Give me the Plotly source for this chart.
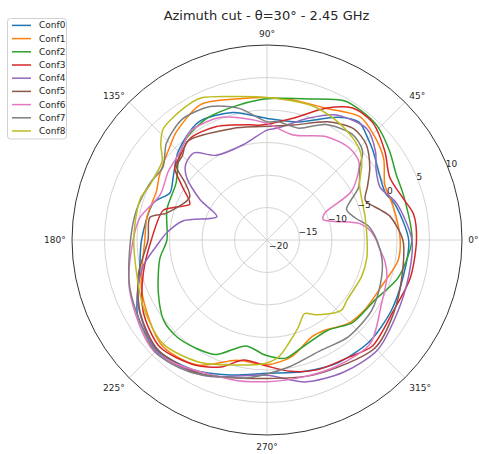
import plotly.graph_objects as go

# ---------------- data (dB vs azimuth angle, degrees) ----------------
labels = ["Conf0", "Conf1", "Conf2", "Conf3", "Conf4", "Conf5", "Conf6", "Conf7", "Conf8"]
colors = ["#1f77b4", "#ff7f0e", "#2ca02c", "#d62728", "#9467bd",
          "#8c564b", "#e377c2", "#7f7f7f", "#bcbd22"]

theta_conf0 = [0, 15, 22, 30, 40, 45, 52, 60, 75, 90, 105, 120, 135, 146, 154, 162, 180, 195, 210, 225, 240, 255, 270, 285, 300, 315, 330, 345, 360]
r_conf0 = [1.8, 0.5, -0.4, 0.0, 1.3, 2.0, 3.0, 1.8, -1.2, -1.3, 0.3, 1.0, -0.7, -2.6, -3.4, -1.6, -0.7, 0.3, 3.0, 3.9, 3.0, 1.5, 0.5, 1.0, 1.8, 2.2, 2.0, 1.7, 1.8]

theta_conf1 = [0, 15, 25, 35, 45, 53, 66, 80, 90, 100, 116, 130, 135, 149, 156, 169, 180, 202, 225, 241, 256, 270, 282, 295, 303, 314, 325, 338, 351, 360]
r_conf1 = [0.5, 0.1, 0.0, 1.9, 3.1, 3.75, 2.2, 1.9, 1.9, 2.1, 3.2, 1.7, 0.9, -0.7, -1.4, -1.2, -1.2, 0.8, 2.9, 2.0, -0.95, -0.8, -1.65, -3.6, -3.5, -2.1, -1.5, -1.0, 0.4, 0.5]

theta_conf2 = [0, 18, 27, 36, 46, 54, 61, 73, 86, 93, 104, 116, 128, 137, 148, 163, 180, 190, 206, 218, 227, 237, 246, 259, 269, 279, 286, 304, 316, 331, 344, 360]
r_conf2 = [2.3, 2.1, 2.3, 3.3, 4.4, 4.6, 4.5, 2.7, 1.85, 1.6, 1.15, 0.9, 0.0, -1.45, -3.5, -3.9, -4.6, -3.25, -1.4, 0.15, 0.35, -0.1, -0.7, -3.4, -2.3, -1.6, -2.4, -3.25, -1.7, -1.0, 1.0, 2.3]

theta_conf3 = [0, 10, 17, 27, 37, 48, 57, 66, 78, 94, 98, 114, 127, 137, 142, 148, 155, 160, 164, 180, 195, 210, 225, 240, 250, 259, 270, 280, 291, 305, 315, 330, 345, 360]
r_conf3 = [3.0, 2.9, 1.9, 1.2, 2.7, 4.3, 4.2, 2.2, -0.85, -2.3, -2.1, -0.9, -0.4, -1.5, -2.0, -4.7, -6.9, -5.2, -3.4, -2.2, -0.3, 2.0, 3.3, 2.2, 0.8, -1.2, -0.6, 0.5, 1.4, 2.0, 3.0, 2.3, 2.8, 3.0]

theta_conf4 = [0, 16, 25, 33, 39, 48, 61, 71, 85, 90, 104, 121, 130, 137, 142, 149, 155, 167, 176, 183, 192, 205, 225, 245, 270, 285, 300, 315, 330, 345, 360]
r_conf4 = [2.3, 0.7, -0.8, 0.0, 1.5, 3.0, 2.0, -0.15, -2.75, -3.1, -4.9, -4.8, -2.5, -2.9, -4.3, -8.0, -11.5, -6.8, -4.5, -3.0, -0.5, 2.0, 4.1, 3.0, 0.8, 2.6, 3.5, 4.0, 3.0, 2.5, 2.3]

theta_conf5 = [0, 11, 15, 22, 28, 35, 44, 52, 63, 77, 94, 107, 129, 135, 141, 145, 151, 165, 169, 180, 195, 210, 225, 243, 270, 290, 315, 330, 345, 360]
r_conf5 = [0.9, -0.75, -2.0, -3.7, -2.5, -0.7, 1.2, 1.7, 0.4, -1.85, -2.5, -2.05, -0.5, -1.6, -2.1, -4.6, -6.4, -4.0, -1.65, -1.7, 0.5, 2.5, 3.8, 3.0, 1.3, 2.0, 3.5, 2.5, 1.5, 0.9]

theta_conf6 = [0, 5, 10, 16, 20, 25, 30, 40, 48, 60, 76, 90, 102, 112, 125, 135, 145, 157, 170, 180, 200, 225, 256, 270, 285, 300, 315, 331, 343, 350, 355, 360]
r_conf6 = [-3.2, -4.0, -5.5, -9.5, -10.8, -10.2, -5.0, -1.5, -1.0, -1.65, -3.35, -2.05, -0.8, 0.25, 0.45, -1.0, -1.5, -2.15, -0.15, 0.6, 2.5, 4.4, 2.15, 1.8, 1.8, 2.2, 2.5, 0.15, -0.7, -1.6, -2.55, -3.2]

theta_conf7 = [0, 8, 14, 21, 30, 38, 43, 51, 63, 74, 85, 90, 102, 113, 125, 136, 145, 154, 167, 180, 200, 225, 240, 256, 262, 270, 280, 296, 310, 326, 339, 350, 360]
r_conf7 = [-3.1, -4.3, -6.0, -6.9, -3.7, -1.9, 0.1, 0.9, -0.05, -2.1, -1.7, -1.8, 0.7, 2.3, 2.7, 1.5, -0.46, 0.0, 0.6, 1.0, 2.4, 4.3, 3.5, 1.8, 1.4, 0.6, -0.2, -1.1, -0.55, -0.6, -1.3, -2.0, -3.1]

theta_conf8 = [0, 13, 31, 38, 43, 50, 61, 72, 89, 103, 115, 122, 133, 138, 143, 155, 162, 180, 208, 225, 241, 255, 269, 276, 282, 290, 297, 303, 311, 317, 323, 339, 350, 360]
r_conf8 = [-4.6, -4.5, -3.4, -1.5, -0.3, 0.5, 1.3, 1.8, 1.9, 2.65, 4.1, 4.0, 3.4, 2.0, 0.2, -0.1, 0.5, 0.5, 1.6, 2.6, 1.5, -0.1, -1.0, -2.0, -3.8, -5.8, -7.3, -6.3, -5.0, -4.25, -4.6, -4.4, -4.4, -4.6]

thetas = [theta_conf0, theta_conf1, theta_conf2, theta_conf3, theta_conf4,
          theta_conf5, theta_conf6, theta_conf7, theta_conf8]
values = [r_conf0, r_conf1, r_conf2, r_conf3, r_conf4,
          r_conf5, r_conf6, r_conf7, r_conf8]

radial_ticks = [-20, -15, -10, -5, 0, 5, 10]
radial_ticktext = ["\u221220", "\u221215", "\u221210", "\u22125", "0", "5", "10"]
angle_ticks = [0, 45, 90, 135, 180, 225, 270, 315]
angle_ticktext = ["0°", "45°", "90°", "135°", "180°", "225°", "270°", "315°"]
title_text = "Azimuth cut - θ=30° - 2.45 GHz"

# ---------------- figure ----------------
W, H = 479, 454
cx, cy, R = 267, 240, 195
TXT = "#262626"

fig = go.Figure()
for lab, col, th, rv in zip(labels, colors, thetas, values):
    fig.add_trace(go.Scatterpolar(
        theta=th, r=rv, mode="lines", name=lab, showlegend=False,
        line=dict(color=col, width=1.5, shape="spline", smoothing=0.8),
    ))

# legend box (matplotlib style: compact, rounded light-grey frame)
lx0, ly0, lx1, ly1 = 7.5, 18.5, 66.5, 139.0
rad = 3
def px(x):
    return x / W
def py(y):
    return 1 - y / H
shapes = [dict(type="path", xref="paper", yref="paper",
               path=(f"M {px(lx0 + rad)},{py(ly0)} L {px(lx1 - rad)},{py(ly0)} "
                     f"Q {px(lx1)},{py(ly0)} {px(lx1)},{py(ly0 + rad)} "
                     f"L {px(lx1)},{py(ly1 - rad)} Q {px(lx1)},{py(ly1)} {px(lx1 - rad)},{py(ly1)} "
                     f"L {px(lx0 + rad)},{py(ly1)} Q {px(lx0)},{py(ly1)} {px(lx0)},{py(ly1 - rad)} "
                     f"L {px(lx0)},{py(ly0 + rad)} Q {px(lx0)},{py(ly0)} {px(lx0 + rad)},{py(ly0)} Z"),
               line=dict(color="#d0d0d0", width=1), fillcolor="rgba(255,255,255,0.8)", layer="above")]
annotations = []
row0, dy = 25.4, 13.2
for i, (lab, col) in enumerate(zip(labels, colors)):
    yy = row0 + i * dy
    shapes.append(dict(type="line", xref="paper", yref="paper",
                       x0=px(12), x1=px(31), y0=py(yy), y1=py(yy),
                       line=dict(color=col, width=1.5), layer="above"))
    annotations.append(dict(text=lab, xref="paper", yref="paper", x=px(36.5), y=py(yy),
                            xanchor="left", yanchor="middle", showarrow=False,
                            font=dict(family="DejaVu Sans", size=9, color=TXT)))

fig.update_layout(
    width=W, height=H,
    margin=dict(l=0, r=0, t=0, b=0),
    paper_bgcolor="white",
    font=dict(family="DejaVu Sans", color=TXT),
    title=dict(text=title_text, x=266.5 / W, xanchor="center",
               y=1 - 15.5 / H, yanchor="middle",
               font=dict(family="DejaVu Sans", size=13, color=TXT)),
    polar=dict(
        domain=dict(x=[(cx - R) / W, (cx + R) / W],
                    y=[(H - cy - R) / H, (H - cy + R) / H]),
        bgcolor="white",
        radialaxis=dict(range=[-20, 10], tickvals=radial_ticks,
                        ticktext=radial_ticktext,
                        angle=25, side="clockwise", tickangle=25,
                        showline=False, ticks="",
                        gridcolor="#d4d4d4", gridwidth=1,
                        tickfont=dict(family="DejaVu Sans", size=9, color=TXT)),
        angularaxis=dict(rotation=0, direction="counterclockwise",
                         tickvals=angle_ticks, ticktext=angle_ticktext,
                         showline=True, linecolor="#333333", linewidth=1,
                         gridcolor="#d4d4d4", gridwidth=1,
                         ticks="outside", ticklen=4, tickcolor="rgba(0,0,0,0)",
                         tickfont=dict(family="DejaVu Sans", size=9, color=TXT)),
    ),
    shapes=shapes,
    annotations=annotations,
    showlegend=False,
)

fig.write_html("out.html", config={"displayModeBar": False},
               post_script="document.body.style.margin='0px';")
